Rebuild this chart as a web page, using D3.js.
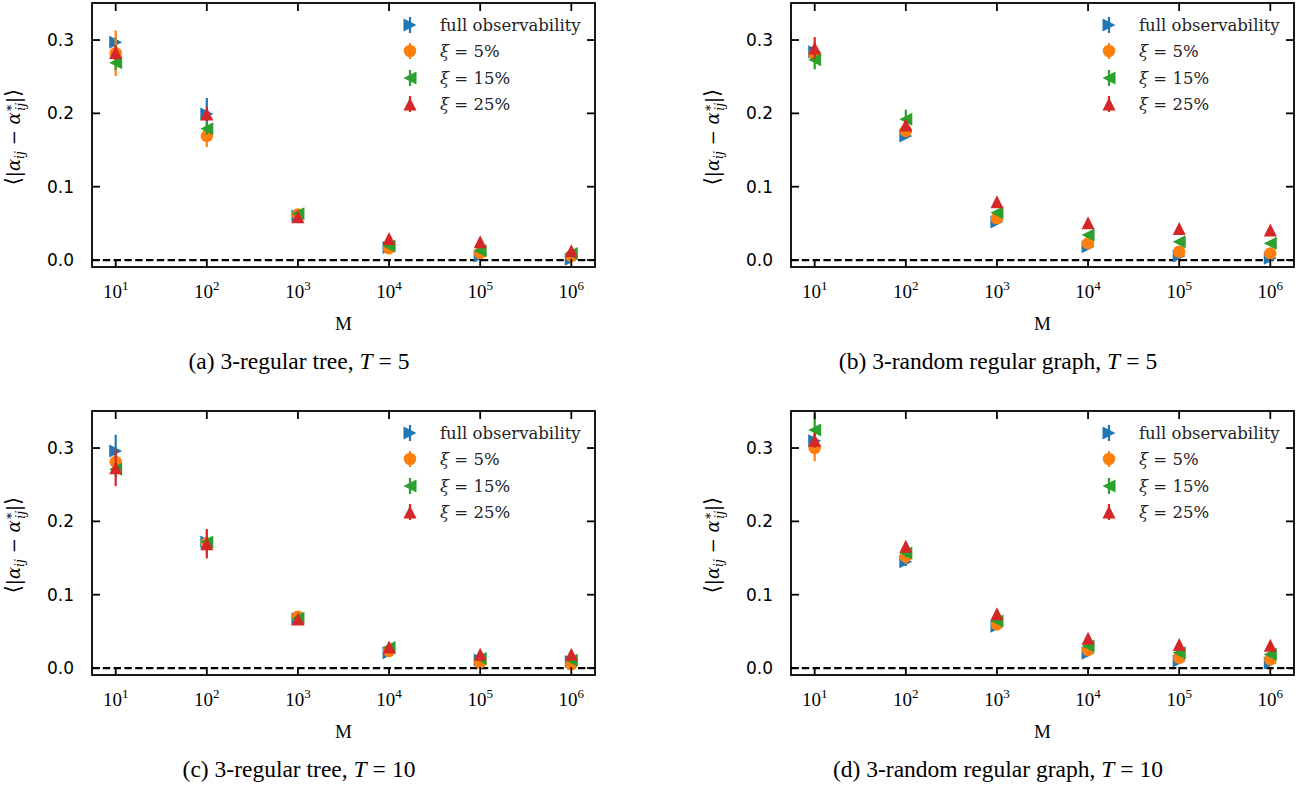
<!DOCTYPE html>
<html><head><meta charset="utf-8">
<script src="https://cdn.jsdelivr.net/npm/d3@7"></script>
<style>body{margin:0;background:#fff}svg{display:block}</style>
</head><body>
<svg id="c" width="1305" height="789"></svg>
<script>
// ---------------- data ----------------
const M = [1e1, 1e2, 1e3, 1e4, 1e5, 1e6];
const xTickExp = [1, 2, 3, 4, 5, 6];
const yTicks = [0.0, 0.1, 0.2, 0.3];
const seriesLabels = ["full observability", "ξ = 5%", "ξ = 15%", "ξ = 25%"];
const seriesColors = ["#1f77b4", "#ff7f0e", "#2ca02c", "#d62728"];
const seriesMarkers = ["tri-right", "circle", "tri-left", "tri-up"];
const captions = ["(a) 3-regular tree, |T|5", "(b) 3-random regular graph, |T|5",
                  "(c) 3-regular tree, |T|10", "(d) 3-random regular graph, |T|10"];

// panel (a)
const aFull = [0.297, 0.199, 0.060, 0.017, 0.0055, 0.001];
const a5    = [0.282, 0.169, 0.062, 0.016, 0.0095, 0.0055];
const a15   = [0.269, 0.179, 0.063, 0.019, 0.0127, 0.009];
const a25   = [0.283, 0.199, 0.059, 0.0295, 0.025, 0.0127];
const aFullErr = [0.008, 0.022, 0.003, 0.002, 0.001, 0.001];
const a5Err    = [0.031, 0.015, 0.003, 0.002, 0.001, 0.001];
const a15Err   = [0.010, 0.008, 0.004, 0.002, 0.001, 0.001];
const a25Err   = [0.010, 0.010, 0.003, 0.002, 0.002, 0.001];
// panel (b)
const bFull = [0.284, 0.169, 0.052, 0.018, 0.0055, 0.0023];
const b5    = [0.280, 0.176, 0.057, 0.0228, 0.0113, 0.009];
const b15   = [0.273, 0.192, 0.0645, 0.034, 0.025, 0.0228];
const b25   = [0.289, 0.184, 0.0795, 0.051, 0.043, 0.041];
const bFullErr = [0.006, 0.004, 0.002, 0.002, 0.001, 0.001];
const b5Err    = [0.006, 0.004, 0.002, 0.002, 0.001, 0.001];
const b15Err   = [0.013, 0.013, 0.003, 0.002, 0.001, 0.001];
const b25Err   = [0.015, 0.006, 0.003, 0.002, 0.001, 0.001];
// panel (c)
const cFull = [0.296, 0.172, 0.067, 0.021, 0.011, 0.009];
const c5    = [0.281, 0.170, 0.070, 0.0232, 0.0073, 0.005];
const c15   = [0.271, 0.172, 0.068, 0.028, 0.013, 0.0105];
const c25   = [0.273, 0.1695, 0.067, 0.0286, 0.0187, 0.0187];
const cFullErr = [0.022, 0.006, 0.002, 0.002, 0.001, 0.001];
const c5Err    = [0.010, 0.006, 0.002, 0.002, 0.001, 0.001];
const c15Err   = [0.010, 0.015, 0.002, 0.002, 0.001, 0.001];
const c25Err   = [0.025, 0.020, 0.002, 0.002, 0.001, 0.001];
// panel (d)
const dFull = [0.310, 0.145, 0.057, 0.020, 0.0095, 0.007];
const d5    = [0.300, 0.152, 0.0595, 0.0245, 0.014, 0.0118];
const d15   = [0.3245, 0.157, 0.064, 0.030, 0.021, 0.0187];
const d25   = [0.3105, 0.166, 0.074, 0.0405, 0.032, 0.031];
const dFullErr = [0.008, 0.006, 0.002, 0.002, 0.001, 0.001];
const d5Err    = [0.018, 0.010, 0.002, 0.002, 0.001, 0.001];
const d15Err   = [0.022, 0.006, 0.002, 0.002, 0.001, 0.001];
const d25Err   = [0.010, 0.006, 0.003, 0.002, 0.001, 0.001];

const panels = [
  {vals:[aFull,a5,a15,a25], errs:[aFullErr,a5Err,a15Err,a25Err]},
  {vals:[bFull,b5,b15,b25], errs:[bFullErr,b5Err,b15Err,b25Err]},
  {vals:[cFull,c5,c15,c25], errs:[cFullErr,c5Err,c15Err,c25Err]},
  {vals:[dFull,d5,d15,d25], errs:[dFullErr,d5Err,d15Err,d25Err]}
];

// ---------------- layout ----------------
const svg = d3.select("#c");
const W = 503, H = 264;
const lefts = [92, 791], tops = [3, 411];
const ms = 13;
const TICK_FONT = "'DejaVu Sans', sans-serif";
const SERIF = "'Liberation Serif', 'Times New Roman', serif";
const MATH = "'DejaVu Serif', serif";

function markerPath(type, s) {
  const h = s / 2;
  if (type === "tri-up") return `M0,${-h}L${-h},${h}L${h},${h}Z`;
  if (type === "tri-right") return `M${h},0L${-h},${-h}L${-h},${h}Z`;
  if (type === "tri-left") return `M${-h},0L${h},${-h}L${h},${h}Z`;
  return d3.symbol(d3.symbolCircle, Math.PI * h * h * 0.92)();
}

panels.forEach((p, pi) => {
  const col = pi % 2, row = Math.floor(pi / 2);
  const L = lefts[col], T = tops[row];
  const x = d3.scaleLog().domain([Math.pow(10, 0.74), Math.pow(10, 6.26)]).range([0, W]);
  const y = d3.scaleLinear().domain([-0.0095, 0.3505]).range([H, 0]);
  const g = svg.append("g").attr("transform", `translate(${L},${T})`);
  const clipId = "clip" + pi;
  g.append("clipPath").attr("id", clipId).append("rect").attr("width", W).attr("height", H);
  const plot = g.append("g").attr("clip-path", `url(#${clipId})`);

  // dashed zero line
  plot.append("line").attr("x1", 0).attr("x2", W).attr("y1", y(0)).attr("y2", y(0))
    .attr("stroke", "#000").attr("stroke-width", 2.2).attr("stroke-dasharray", "7.4,3.4");

  // series
  p.vals.forEach((vals, si) => {
    const c = seriesColors[si];
    const sg = plot.append("g");
    sg.selectAll("line.err").data(M).join("line")
      .attr("x1", d => x(d)).attr("x2", d => x(d))
      .attr("y1", (d, i) => y(vals[i] - p.errs[si][i]))
      .attr("y2", (d, i) => y(vals[i] + p.errs[si][i]))
      .attr("stroke", c).attr("stroke-width", 2.2);
    sg.selectAll("path.mk").data(M).join("path")
      .attr("transform", (d, i) => `translate(${x(d)},${y(vals[i])})`)
      .attr("d", markerPath(seriesMarkers[si], ms)).attr("fill", c);
  });

  // axes frame
  g.append("rect").attr("width", W).attr("height", H).attr("fill", "none")
    .attr("stroke", "#000").attr("stroke-width", 1.8);

  // ticks (inward, all four sides)
  const tk = 8;
  xTickExp.forEach(e => {
    const xv = x(Math.pow(10, e));
    g.append("line").attr("x1", xv).attr("x2", xv).attr("y1", H).attr("y2", H - tk).attr("stroke", "#000").attr("stroke-width", 1.8);
    g.append("line").attr("x1", xv).attr("x2", xv).attr("y1", 0).attr("y2", tk).attr("stroke", "#000").attr("stroke-width", 1.8);
    const t = g.append("text").attr("x", xv).attr("y", H + 31).attr("text-anchor", "middle")
      .attr("font-family", SERIF).attr("font-size", 19).attr("fill", "#000");
    t.append("tspan").text("10");
    t.append("tspan").attr("dy", -8).attr("font-size", 13).text(e);
  });
  yTicks.forEach(v => {
    const yv = y(v);
    g.append("line").attr("x1", 0).attr("x2", tk).attr("y1", yv).attr("y2", yv).attr("stroke", "#000").attr("stroke-width", 1.8);
    g.append("line").attr("x1", W).attr("x2", W - tk).attr("y1", yv).attr("y2", yv).attr("stroke", "#000").attr("stroke-width", 1.8);
    g.append("text").attr("x", -18).attr("y", yv).attr("dy", "0.36em").attr("text-anchor", "end")
      .attr("font-family", TICK_FONT).attr("font-size", 17).attr("fill", "#000").text(v.toFixed(1));
  });

  // x label
  g.append("text").attr("x", W / 2).attr("y", H + 63).attr("text-anchor", "middle")
    .attr("font-family", SERIF).attr("font-size", 19).text("M");

  // y label
  const yl = g.append("text").attr("transform", `translate(-72,${H / 2 + 2}) rotate(-90)`)
    .attr("text-anchor", "middle").attr("font-family", MATH).attr("font-size", 18).attr("fill", "#000");
  yl.append("tspan").attr("font-size", 21).text("⟨");
  yl.append("tspan").text("|");
  yl.append("tspan").attr("font-style", "italic").text("α");
  yl.append("tspan").attr("font-style", "italic").attr("font-size", 12.5).attr("dy", 4).text("ij");
  yl.append("tspan").attr("dy", -4).text(" − ");
  yl.append("tspan").attr("font-style", "italic").text("α");
  yl.append("tspan").attr("font-size", 12.5).attr("dy", -7).text("∗");
  yl.append("tspan").attr("font-style", "italic").attr("font-size", 12.5).attr("dx", -7).attr("dy", 12).text("ij");
  yl.append("tspan").attr("dy", -5).text("|");
  yl.append("tspan").attr("font-size", 21).text("⟩");

  // legend
  const lg = g.append("g").attr("transform", "translate(318,0)");
  const rowsY = [22, 48, 75, 101];
  seriesLabels.forEach((lab, si) => {
    const ry = rowsY[si];
    lg.append("line").attr("x1", 0).attr("x2", 0).attr("y1", ry - 8).attr("y2", ry + 8)
      .attr("stroke", seriesColors[si]).attr("stroke-width", 2.2);
    lg.append("path").attr("transform", `translate(0,${ry})`)
      .attr("d", markerPath(seriesMarkers[si], ms)).attr("fill", seriesColors[si]);
    const t = lg.append("text").attr("x", 30).attr("y", ry).attr("dy", "0.35em")
      .attr("font-family", MATH).attr("font-size", 16.5).attr("fill", "#222");
    if (si === 0) t.text(lab);
    else {
      const parts = lab.split(" = ");
      t.append("tspan").attr("font-style", "italic").text(parts[0]);
      t.append("tspan").text(" = " + parts[1]);
    }
  });

  // caption
  const cap = captions[pi].split("|");
  const ct = svg.append("text").attr("x", L + 207).attr("y", T + H + 102).attr("text-anchor", "middle")
    .attr("font-family", SERIF).attr("font-size", 23.5).attr("fill", "#000");
  ct.append("tspan").text(cap[0]);
  ct.append("tspan").attr("font-style", "italic").text(cap[1]);
  ct.append("tspan").attr("dx", 6).text("=");
  ct.append("tspan").attr("dx", 6).text(cap[2]);
});
</script>
</body></html>
